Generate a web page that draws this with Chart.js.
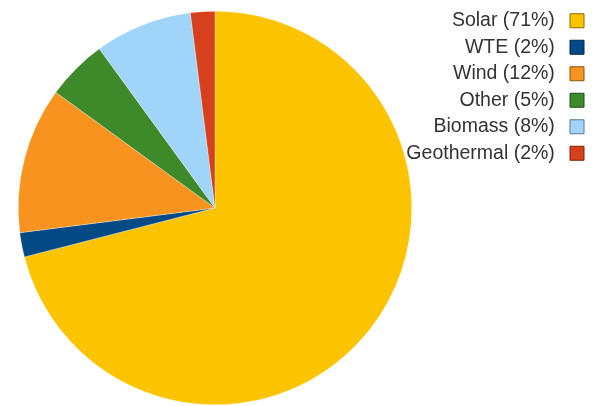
<!DOCTYPE html>
<html>
<head>
<meta charset="utf-8">
<script src="https://cdn.jsdelivr.net/npm/chart.js@4.4.0/dist/chart.umd.min.js"></script>
<style>
    html, body { margin: 0; padding: 0; background: #fff; }
    #wrap { width: 597px; height: 406px; }
</style>
</head>
<body>
<div id="wrap"><canvas id="energy-chart"></canvas></div>
<script>
const sources = ['Solar', 'WTE', 'Wind', 'Other', 'Biomass', 'Geothermal'];
const shares = [71, 2, 12, 5, 8, 2];
const sliceColors = ['#fcc400', '#024a86', '#f7931e', '#3e8a2a', '#a0d4f8', '#d6401c'];
const boxBorders = ['#8a6d00', '#01294a', '#8a5210', '#224c17', '#5a7a90', '#7a2410'];

// legend is squeezed so the pie keeps its size; after layout move it up a bit
// and widen its box to the left so the long label isn't clipped
const legendShift = {
    id: 'legendShift',
    afterLayout(chart) {
        const lg = chart.legend;
        if (lg) {
            lg.top -= 7;
            lg.bottom -= 7;
            lg.left -= 30;
            lg.width += 30;
        }
    }
};

const ctx = document.getElementById('energy-chart').getContext('2d');
new Chart(ctx, {
    type: 'pie',
    data: {
        labels: sources,
        datasets: [{
            data: shares,
            backgroundColor: sliceColors,
            borderColor: 'rgba(255,255,255,0.6)',
            borderWidth: 0.5
        }]
    },
    plugins: [legendShift],
    options: {
        responsive: true,
        maintainAspectRatio: false,
        animation: false,
        layout: { padding: { top: 11, bottom: 1, left: 18, right: 6 } },
        plugins: {
            tooltip: { enabled: false },
            legend: {
                position: 'right',
                align: 'start',
                rtl: true,
                maxWidth: 179,
                labels: {
                    boxWidth: 14,
                    boxHeight: 14,
                    padding: 7,
                    color: '#333',
                    font: { family: '"Liberation Sans", Arial, sans-serif', size: 19.5 },
                    generateLabels: function (chart) {
                        return sources.map((name, i) => ({
                            text: name + ' (' + shares[i] + '%) ',
                            fillStyle: sliceColors[i],
                            strokeStyle: boxBorders[i],
                            lineWidth: 1,
                            fontColor: '#333',
                            hidden: false,
                            index: i
                        }));
                    }
                }
            }
        }
    }
});
</script>
</body>
</html>
